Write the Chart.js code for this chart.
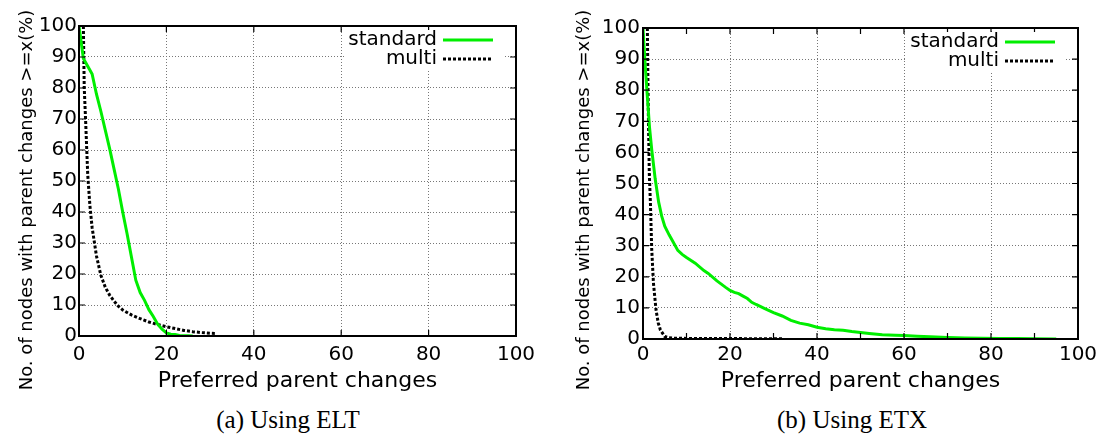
<!DOCTYPE html>
<html>
<head>
<meta charset="utf-8">
<script src="https://cdn.jsdelivr.net/npm/chart.js@4.4.1/dist/chart.umd.min.js"></script>
<style>
  body { margin: 0; background: #fff; width: 1102px; height: 436px; position: relative; overflow: hidden; }
  .panel { position: absolute; top: 0; width: 551px; height: 400px; }
  .caption { position: absolute; top: 406px; width: 300px; text-align: center;
             font-family: "Liberation Serif", serif; font-size: 25px; line-height: 28px; color: #000; }
</style>
</head>
<body>
<div class="panel" style="left:0"><canvas id="elt" width="551" height="400"></canvas></div>
<div class="panel" style="left:551px"><canvas id="etx" width="551" height="400"></canvas></div>
<div class="caption" style="left:138px">(a) Using ELT</div>
<div class="caption" style="left:702px">(b) Using ETX</div>
<script>
const xTicks = [0, 20, 40, 60, 80, 100];
const yTicks = [0, 10, 20, 30, 40, 50, 60, 70, 80, 90, 100];
const seriesNames = ['standard', 'multi'];
const xTitle = 'Preferred parent changes';
const yTitle = 'No. of nodes with parent changes >=x(%)';

// (a) ELT
const eltStandardX = [0, 1, 2, 3, 4, 5, 6, 7, 8, 9, 10, 11, 12, 13, 14, 15, 16, 17, 18, 19, 20, 21, 22, 23, 24, 25, 26];
const eltStandardY = [100, 89.5, 87, 84.5, 78, 72.5, 66.5, 60.5, 54, 47.5, 40, 33, 25.5, 18, 14, 11.5, 8.5, 6.3, 3.8, 2.2, 1, 0.6, 0.5, 0.2, 0.1, 0.1, 0];
const eltMultiX = [1, 1.2, 1.5, 2, 2.5, 3, 4, 5, 6, 7, 8, 9, 10, 11, 12, 14, 16, 18, 20, 22, 24, 26, 28, 30, 31.5];
const eltMultiY = [100, 80, 70, 52, 42, 35, 25.8, 19.6, 15.8, 13.2, 11.3, 9.6, 8.4, 7.6, 6.8, 5.6, 4.5, 3.7, 3.0, 2.4, 1.8, 1.4, 1.1, 0.9, 0.8];

// (b) ETX
const etxStandardX = [0, 0.5, 1, 1.5, 2, 2.8, 3.6, 4.3, 5, 6, 7, 8, 9, 10, 12, 14, 15, 17, 19, 20, 21, 22, 23, 24, 25, 26, 28, 30, 32, 34, 36, 38, 40, 42, 44, 46, 48, 50, 52, 55, 58, 60, 63, 66, 70, 74, 78, 82, 86, 90, 95];
const etxStandardY = [100, 88, 78, 68, 61, 51.5, 44, 39.5, 36.3, 33.5, 31, 28.5, 27.2, 26.2, 24.4, 22, 21.1, 18.7, 16.6, 15.6, 15, 14.6, 13.8, 13, 11.8, 11.1, 9.8, 8.5, 7.4, 6, 5.1, 4.6, 3.8, 3.3, 3, 2.8, 2.4, 2.1, 1.8, 1.4, 1.2, 1.1, 0.9, 0.7, 0.5, 0.35, 0.25, 0.2, 0.15, 0.05, 0];
const etxMultiX = [1, 1.2, 1.45, 1.7, 2, 2.4, 3, 3.5, 4, 5, 6, 7, 10, 15, 20, 25, 32];
const etxMultiY = [100, 75, 53, 44, 29, 18, 9.3, 5.2, 2.9, 0.8, 0.4, 0.25, 0.2, 0.15, 0.15, 0.1, 0.1];

const FONT = 'DejaVu Sans';

function pts(xs, ys) { return xs.map((x, i) => ({ x: x, y: ys[i] })); }

// gnuplot-like frame: border, inward ticks, opaque key at top right, long y label
const framePlugin = {
  id: 'frame',
  afterDatasetsDraw(chart, args, opts) {
    const ctx = chart.ctx, a = chart.chartArea;
    const sx = chart.scales.x, sy = chart.scales.y;
    ctx.save();
    ctx.strokeStyle = '#000';
    ctx.setLineDash([]);
    ctx.lineWidth = 1.2;
    ctx.beginPath();
    yTicks.forEach(v => {
      const py = sy.getPixelForValue(v);
      ctx.moveTo(a.left, py); ctx.lineTo(a.left + 6, py);
      ctx.moveTo(a.right, py); ctx.lineTo(a.right - 6, py);
    });
    xTicks.concat(opts.minor).forEach(v => {
      const px = sx.getPixelForValue(v);
      ctx.moveTo(px, a.bottom); ctx.lineTo(px, a.bottom - 6);
      ctx.moveTo(px, a.top); ctx.lineTo(px, a.top + 6);
    });
    ctx.stroke();

    // key
    ctx.fillStyle = '#fff';
    ctx.fillRect(a.right - 172, a.top + 4, 160, 40);
    ctx.font = '20px "' + FONT + '"';
    ctx.textAlign = 'right';
    ctx.textBaseline = 'middle';
    chart.data.datasets.forEach((ds, i) => {
      const ry = a.top + 14 + i * 19;
      ctx.fillStyle = '#000';
      ctx.fillText(ds.label, a.right - 79, ry);
      ctx.strokeStyle = ds.borderColor;
      ctx.lineWidth = 3;
      ctx.setLineDash(ds.borderDash || []);
      ctx.beginPath();
      ctx.moveTo(a.right - 73, ry); ctx.lineTo(a.right - 23, ry);
      ctx.stroke();
    });

    ctx.setLineDash([]);
    ctx.strokeStyle = '#000';
    ctx.lineWidth = 2;
    ctx.strokeRect(a.left, a.top, a.right - a.left, a.bottom - a.top);

    // y label is longer than the plot, so centre it on the canvas
    ctx.translate(opts.titleX, 200);
    ctx.rotate(-Math.PI / 2);
    ctx.fillStyle = '#000';
    ctx.font = '18px "' + FONT + '"';
    ctx.textAlign = 'center';
    ctx.fillText(yTitle, 0, 0);
    ctx.restore();
  }
};

function makeChart(id, stdX, stdY, mulX, mulY, box) {
  return new Chart(document.getElementById(id), {
    type: 'line',
    data: {
      datasets: [
        { label: seriesNames[0], data: pts(stdX, stdY), borderColor: '#00ee00', borderWidth: 3,
          pointRadius: 0, tension: 0 },
        { label: seriesNames[1], data: pts(mulX, mulY), borderColor: '#000000', borderWidth: 3,
          borderDash: [3, 2], pointRadius: 0, tension: 0 }
      ]
    },
    options: {
      responsive: false,
      animation: false,
      devicePixelRatio: 1,
      layout: { padding: { left: 0, right: box.right, top: box.top, bottom: 0 } },
      plugins: { legend: { display: false }, tooltip: { enabled: false },
                 frame: { minor: box.minor, titleX: box.titleX } },
      scales: {
        x: {
          type: 'linear', min: 0, max: 100,
          afterBuildTicks: s => { s.ticks = xTicks.map(v => ({ value: v })); },
          afterFit: s => { s.height = box.xh; },
          grid: { color: '#777', lineWidth: 1, drawTicks: false },
          border: { display: false, dash: [1, 2] },
          ticks: { padding: box.xpad, color: '#000', autoSkip: false, maxRotation: 0,
                   font: { family: FONT, size: 20 } },
          title: { display: true, text: xTitle, color: '#000', font: { family: FONT, size: 22 },
                   padding: { top: 0, bottom: 6 } }
        },
        y: {
          type: 'linear', min: 0, max: 100,
          afterBuildTicks: s => { s.ticks = yTicks.map(v => ({ value: v })); },
          afterFit: s => { s.width = box.yw; },
          grid: { color: '#777', lineWidth: 1, drawTicks: false },
          border: { display: false, dash: [1, 2] },
          ticks: { padding: box.ypad, color: '#000', font: { family: FONT, size: 20 } }
        }
      }
    },
    plugins: [framePlugin]
  });
}

makeChart('elt', eltStandardX, eltStandardY, eltMultiX, eltMultiY,
  { top: 26, right: 35, yw: 79, xh: 64, xpad: 7, ypad: 2, titleX: 27, minor: [] });
makeChart('etx', etxStandardX, etxStandardY, etxMultiX, etxMultiY,
  { top: 28, right: 24, yw: 92, xh: 61, xpad: 4, ypad: 3, titleX: 33, minor: [10, 30, 50, 70, 90] });
</script>
</body>
</html>
